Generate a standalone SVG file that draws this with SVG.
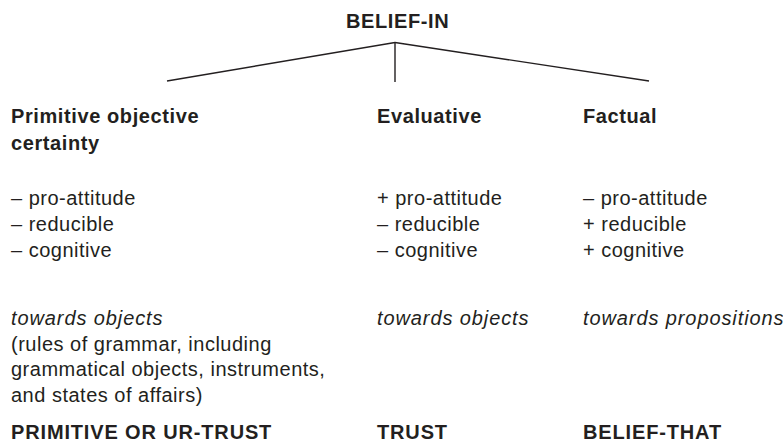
<svg xmlns="http://www.w3.org/2000/svg" width="783" height="443" viewBox="0 0 783 443">
<style>
text{font-family:"Liberation Sans",Arial,Helvetica,sans-serif;fill:#231f20;font-size:20px;letter-spacing:0.5px}
.b{font-weight:bold;letter-spacing:0.6px}
.i{font-style:italic;letter-spacing:0.9px}
.caps{letter-spacing:0.85px}
.ln{stroke:#231f20;stroke-width:1.4;fill:none}
</style>
<rect width="783" height="443" fill="#fff"/>
<g id="root"><text class="b" x="346" y="27.5">BELIEF-IN</text></g>
<g id="connectors">
<line class="ln" x1="395" y1="42.5" x2="167" y2="81"/>
<line class="ln" x1="395" y1="42.5" x2="395" y2="82"/>
<line class="ln" x1="395" y1="42.5" x2="649" y2="81"/>
</g>
<g id="primitive">
<text class="b" x="11" y="123">Primitive objective</text>
<text class="b" x="11" y="150">certainty</text>
<text x="11" y="205">– pro-attitude</text>
<text x="11" y="231">– reducible</text>
<text x="11" y="257">– cognitive</text>
<text class="i" x="11" y="325">towards objects</text>
<text x="11" y="350.5">(rules of grammar, including</text>
<text x="11" y="376">grammatical objects, instruments,</text>
<text x="11" y="401.5">and states of affairs)</text>
<text class="b caps" x="11" y="438.5">PRIMITIVE OR UR-TRUST</text>
</g>
<g id="evaluative">
<text class="b" x="377" y="123">Evaluative</text>
<text x="377" y="205">+ pro-attitude</text>
<text x="377" y="231">– reducible</text>
<text x="377" y="257">– cognitive</text>
<text class="i" x="377" y="325">towards objects</text>
<text class="b caps" x="377" y="438.5">TRUST</text>
</g>
<g id="factual">
<text class="b" x="583" y="123">Factual</text>
<text x="583" y="205">– pro-attitude</text>
<text x="583" y="231">+ reducible</text>
<text x="583" y="257">+ cognitive</text>
<text class="i" x="583" y="325">towards propositions</text>
<text class="b caps" x="583" y="438.5">BELIEF-THAT</text>
</g>
</svg>
